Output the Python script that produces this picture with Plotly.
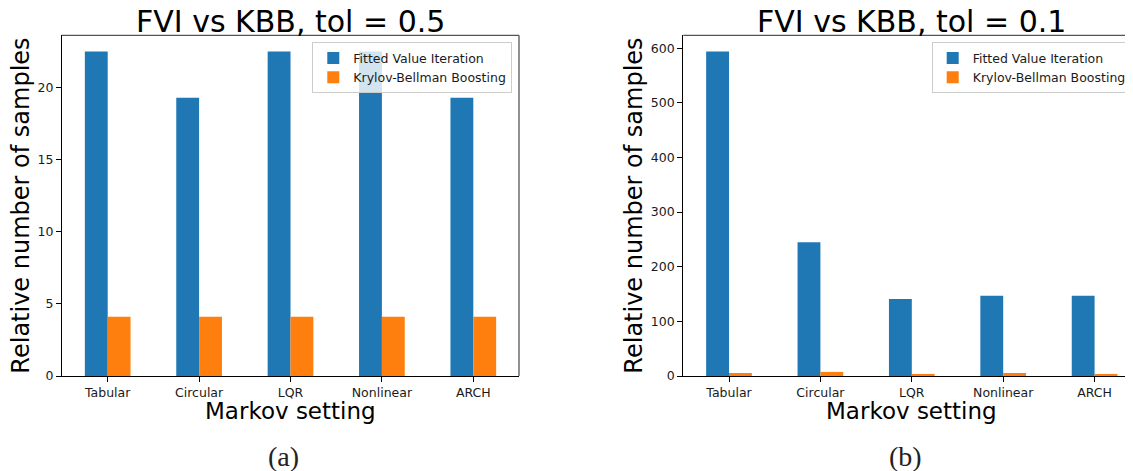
import plotly.graph_objects as go

categories = ["Tabular", "Circular", "LQR", "Nonlinear", "ARCH"]
fvi_tol05 = [22.5, 19.3, 22.5, 22.5, 19.3]
kbb_tol05 = [4.1, 4.1, 4.1, 4.1, 4.1]
fvi_tol01 = [594, 245, 141, 147, 147]
kbb_tol01 = [5.5, 7.5, 3.8, 5.5, 3.8]
yticks_05 = [0, 5, 10, 15, 20]
yticks_01 = [0, 100, 200, 300, 400, 500, 600]
series_names = ["Fitted Value Iteration", "Krylov-Bellman Boosting"]
titles = ["FVI vs KBB, tol = 0.5", "FVI vs KBB, tol = 0.1"]
panel_tags = ["(a)", "(b)"]
y_label = "Relative number of samples"
x_label = "Markov setting"

# page has an 8px body margin; figure is sized so that it ends at the window edge
OFF = 8
W, H = 1133 - OFF, 471 - OFF
BLUE, ORANGE = "#1f77b4", "#ff7f0e"
FONT = "DejaVu Sans"

def px(x):
    return (x - OFF) / W

def py(y):
    return (H - (y - OFF)) / H

xpos = list(range(len(categories)))

fig = go.Figure()
fig.add_trace(go.Bar(x=xpos, y=fvi_tol05, name=series_names[0], marker_color=BLUE,
                     marker_line_width=0, xaxis="x", yaxis="y", legend="legend"))
fig.add_trace(go.Bar(x=xpos, y=kbb_tol05, name=series_names[1], marker_color=ORANGE,
                     marker_line_width=0, xaxis="x", yaxis="y", legend="legend"))
fig.add_trace(go.Bar(x=xpos, y=fvi_tol01, name=series_names[0], marker_color=BLUE,
                     marker_line_width=0, xaxis="x2", yaxis="y2", legend="legend2"))
fig.add_trace(go.Bar(x=xpos, y=kbb_tol01, name=series_names[1], marker_color=ORANGE,
                     marker_line_width=0, xaxis="x2", yaxis="y2", legend="legend2"))

L0, L1 = 62, 519
R0 = 683.3
TOP, BOT = 35.3, 376
unit = (L1 - L0) / 5.0
right_max = -0.5 + (1133 - R0) / unit

common_x = dict(tickmode="array", tickvals=xpos, ticktext=categories,
                showline=True, linecolor="black", linewidth=1.2,
                ticks="outside", ticklen=5, tickcolor="black", tickwidth=1,
                showgrid=False, zeroline=False,
                tickfont=dict(family=FONT, size=12.5, color="#1a1a1a"),
                automargin=False)
common_y = dict(showline=True, linecolor="black", linewidth=1.2,
                ticks="outside", ticklen=5, tickcolor="black", tickwidth=1,
                showgrid=False, zeroline=False,
                tickfont=dict(family=FONT, size=12.5, color="#1a1a1a"),
                automargin=False)

fig.update_layout(
    width=W, height=H,
    template="none",
    paper_bgcolor="white", plot_bgcolor="white",
    margin=dict(l=0, r=0, t=0, b=0),
    barmode="group", bargap=0.5, bargroupgap=0,
    xaxis=dict(common_x, domain=[px(L0), px(L1)], range=[-0.5, 4.5], anchor="y"),
    yaxis=dict(common_y, domain=[py(BOT), py(TOP)], range=[0, 22.5 * 1.05],
               tickvals=yticks_05, anchor="x"),
    xaxis2=dict(common_x, domain=[px(R0), 1.0], range=[-0.5, right_max], anchor="y2"),
    yaxis2=dict(common_y, domain=[py(BOT), py(TOP)], range=[0, 594 * 1.05],
                tickvals=yticks_01, anchor="x2"),
    legend=dict(x=px(512.3), y=py(42.3), xanchor="right", yanchor="top",
                bgcolor="rgba(255,255,255,0.8)", bordercolor="#cccccc", borderwidth=1,
                font=dict(family=FONT, size=12.5, color="#1a1a1a"), traceorder="normal"),
    legend2=dict(x=px(931.7), y=py(42.3), xanchor="left", yanchor="top",
                 bgcolor="rgba(255,255,255,0.8)", bordercolor="#cccccc", borderwidth=1,
                 font=dict(family=FONT, size=12.5, color="#1a1a1a"), traceorder="normal"),
)

# top / right spines
shapes = [
    dict(type="line", xref="paper", yref="paper", x0=px(L0), x1=px(L1), y0=py(TOP), y1=py(TOP),
         line=dict(color="#555555", width=1.3)),
    dict(type="line", xref="paper", yref="paper", x0=px(L1), x1=px(L1), y0=py(BOT), y1=py(TOP),
         line=dict(color="#555555", width=1.3)),
    dict(type="line", xref="paper", yref="paper", x0=px(R0), x1=1.0, y0=py(TOP), y1=py(TOP),
         line=dict(color="#555555", width=1.3)),
]
fig.update_layout(shapes=shapes)

annotations = []
centers = [(L0 + L1) / 2, R0 + (L1 - L0) / 2]
for c, t in zip(centers, titles):
    annotations.append(dict(text=t, x=px(c), y=py(21), xref="paper", yref="paper",
                            xanchor="center", yanchor="middle", showarrow=False,
                            font=dict(family=FONT, size=30, color="black")))
for c in centers:
    annotations.append(dict(text=x_label, x=px(c), y=py(411), xref="paper", yref="paper",
                            xanchor="center", yanchor="middle", showarrow=False,
                            font=dict(family=FONT, size=23, color="black")))
for c in [21, 634]:
    annotations.append(dict(text=y_label, x=px(c), y=py((TOP + BOT) / 2), xref="paper",
                            yref="paper", xanchor="center", yanchor="middle", textangle=-90,
                            showarrow=False, font=dict(family=FONT, size=24, color="black")))
for c, t in zip([283, 905], panel_tags):
    annotations.append(dict(text=t, x=px(c), y=py(456), xref="paper", yref="paper",
                            xanchor="center", yanchor="middle", showarrow=False,
                            font=dict(family="Liberation Serif", size=28, color="#222222")))
fig.update_layout(annotations=annotations)

fig.write_html("out.html")
